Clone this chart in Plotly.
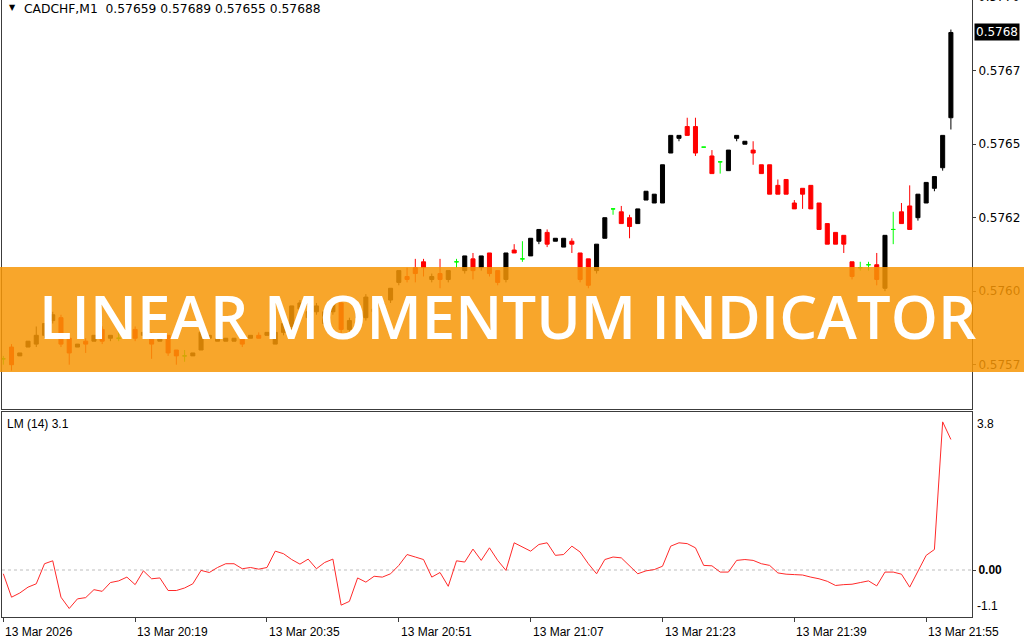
import plotly.graph_objects as go
import pandas as pd

# ---------------- data ----------------
HEADER_SYMBOL = "CADCHF,M1"
HEADER_OHLC = "0.57659 0.57689 0.57655 0.57688"
START = "2026-03-13 20:03"

OPEN = [0.57577, 0.57581, 0.57578, 0.57581, 0.57582, 0.57585, 0.57590, 0.57591, 0.57584, 0.57581,
        0.57583, 0.57583, 0.57587, 0.57584, 0.57584, 0.57584, 0.57587, 0.57585, 0.57585, 0.57583,
        0.57585, 0.57580, 0.57578, 0.57578, 0.57580, 0.57584, 0.57583, 0.57583, 0.57583, 0.57585,
        0.57584, 0.57585, 0.57585, 0.57582, 0.57586, 0.57588, 0.57594, 0.57591, 0.57593, 0.57589,
        0.57593, 0.57596, 0.57587, 0.57591, 0.57591, 0.57593, 0.57594, 0.57597, 0.57603, 0.57605,
        0.57608, 0.57610, 0.57604, 0.57606, 0.57604, 0.57610, 0.57607, 0.57611, 0.57608, 0.57613,
        0.57607, 0.57604, 0.57614, 0.57611, 0.57612, 0.57617, 0.57620, 0.57617, 0.57615, 0.57617,
        0.57613, 0.57611, 0.57607, 0.57618, 0.57628, 0.57627, 0.57625, 0.57623, 0.57631, 0.57630,
        0.57630, 0.57647, 0.57652, 0.57656, 0.57656, 0.57649, 0.57646, 0.57644, 0.57641, 0.57652,
        0.57650, 0.57648, 0.57643, 0.57643, 0.57636, 0.57638, 0.57630, 0.57635, 0.57636, 0.57630,
        0.57623, 0.57620, 0.57619, 0.57610, 0.57608, 0.57609, 0.57609, 0.57601, 0.57621, 0.57627,
        0.57629, 0.57625, 0.57630, 0.57635, 0.57642, 0.57659]
HIGH = [0.57578, 0.57582, 0.57579, 0.57583, 0.57588, 0.57589, 0.57593, 0.57592, 0.57585, 0.57582,
        0.57584, 0.57585, 0.57588, 0.57585, 0.57586, 0.57587, 0.57588, 0.57586, 0.57586, 0.57584,
        0.57585, 0.57580, 0.57580, 0.57579, 0.57587, 0.57585, 0.57584, 0.57584, 0.57584, 0.57586,
        0.57585, 0.57586, 0.57586, 0.57587, 0.57589, 0.57595, 0.57597, 0.57594, 0.57596, 0.57593,
        0.57597, 0.57597, 0.57591, 0.57594, 0.57599, 0.57595, 0.57597, 0.57601, 0.57607, 0.57608,
        0.57611, 0.57611, 0.57606, 0.57611, 0.57607, 0.57611, 0.57612, 0.57613, 0.57612, 0.57613,
        0.57607, 0.57613, 0.57616, 0.57617, 0.57618, 0.57621, 0.57621, 0.57618, 0.57618, 0.57618,
        0.57613, 0.57611, 0.57616, 0.57625, 0.57628, 0.57629, 0.57626, 0.57628, 0.57634, 0.57633,
        0.57643, 0.57653, 0.57653, 0.57659, 0.57659, 0.57649, 0.57648, 0.57644, 0.57648, 0.57653,
        0.57651, 0.57651, 0.57643, 0.57643, 0.57638, 0.57638, 0.57631, 0.57635, 0.57636, 0.57630,
        0.57623, 0.57620, 0.57619, 0.57610, 0.57610, 0.57610, 0.57613, 0.57619, 0.57627, 0.57630,
        0.57636, 0.57633, 0.57637, 0.57639, 0.57653, 0.57689]
LOW = [0.57575, 0.57573, 0.57578, 0.57581, 0.57581, 0.57584, 0.57589, 0.57581, 0.57575, 0.57581,
       0.57579, 0.57583, 0.57582, 0.57583, 0.57583, 0.57584, 0.57583, 0.57585, 0.57577, 0.57583,
       0.57578, 0.57575, 0.57576, 0.57578, 0.57580, 0.57584, 0.57583, 0.57583, 0.57583, 0.57581,
       0.57584, 0.57584, 0.57585, 0.57582, 0.57585, 0.57587, 0.57593, 0.57590, 0.57592, 0.57588,
       0.57592, 0.57585, 0.57586, 0.57590, 0.57590, 0.57592, 0.57594, 0.57596, 0.57602, 0.57603,
       0.57603, 0.57605, 0.57603, 0.57601, 0.57603, 0.57608, 0.57606, 0.57604, 0.57607, 0.57605,
       0.57602, 0.57603, 0.57613, 0.57610, 0.57612, 0.57616, 0.57615, 0.57617, 0.57615, 0.57613,
       0.57603, 0.57601, 0.57606, 0.57618, 0.57626, 0.57623, 0.57618, 0.57623, 0.57631, 0.57630,
       0.57630, 0.57647, 0.57651, 0.57653, 0.57646, 0.57649, 0.57640, 0.57640, 0.57641, 0.57651,
       0.57650, 0.57643, 0.57640, 0.57633, 0.57633, 0.57633, 0.57628, 0.57628, 0.57628, 0.57621,
       0.57616, 0.57616, 0.57613, 0.57604, 0.57607, 0.57607, 0.57602, 0.57600, 0.57616, 0.57623,
       0.57621, 0.57624, 0.57630, 0.57634, 0.57641, 0.57655]
CLOSE = [0.57577, 0.57575, 0.57579, 0.57583, 0.57585, 0.57589, 0.57592, 0.57582, 0.57579, 0.57582,
         0.57582, 0.57585, 0.57583, 0.57585, 0.57584, 0.57586, 0.57584, 0.57586, 0.57582, 0.57584,
         0.57579, 0.57578, 0.57578, 0.57579, 0.57586, 0.57585, 0.57584, 0.57584, 0.57584, 0.57582,
         0.57585, 0.57584, 0.57586, 0.57586, 0.57589, 0.57595, 0.57596, 0.57593, 0.57595, 0.57593,
         0.57596, 0.57587, 0.57590, 0.57593, 0.57598, 0.57594, 0.57596, 0.57601, 0.57607, 0.57604,
         0.57606, 0.57608, 0.57605, 0.57604, 0.57607, 0.57610, 0.57612, 0.57607, 0.57612, 0.57606,
         0.57603, 0.57613, 0.57613, 0.57611, 0.57618, 0.57621, 0.57616, 0.57618, 0.57618, 0.57616,
         0.57604, 0.57602, 0.57616, 0.57625, 0.57628, 0.57623, 0.57622, 0.57628, 0.57634, 0.57633,
         0.57643, 0.57653, 0.57653, 0.57653, 0.57647, 0.57649, 0.57640, 0.57644, 0.57648, 0.57653,
         0.57651, 0.57647, 0.57640, 0.57633, 0.57633, 0.57633, 0.57628, 0.57633, 0.57628, 0.57621,
         0.57616, 0.57616, 0.57616, 0.57605, 0.57608, 0.57609, 0.57604, 0.57619, 0.57621, 0.57623,
         0.57621, 0.57633, 0.57637, 0.57639, 0.57653, 0.57688]
LM = [-0.09, -0.65, -0.55, -0.41, -0.33, 0.15, 0.22, -0.65, -0.92, -0.69,
      -0.66, -0.47, -0.51, -0.30, -0.26, -0.17, -0.35, -0.02, -0.21, -0.19,
      -0.49, -0.49, -0.43, -0.33, -0.01, -0.06, 0.06, 0.15, 0.15, 0.03,
      0.06, 0.02, 0.06, 0.45, 0.39, 0.25, 0.14, 0.26, 0.03, 0.18,
      0.26, -0.84, -0.75, -0.19, -0.29, -0.15, -0.17, -0.09, 0.11, 0.37,
      0.31, 0.25, -0.17, -0.06, -0.39, 0.22, 0.19, 0.50, 0.23, 0.53,
      0.23, -0.01, 0.65, 0.55, 0.45, 0.61, 0.65, 0.35, 0.37, 0.57,
      0.43, 0.15, -0.09, 0.25, 0.31, 0.29, 0.11, -0.09, -0.02, 0.01,
      0.09, 0.57, 0.65, 0.63, 0.53, 0.11, 0.10, -0.05, -0.05, 0.23,
      0.25, 0.23, 0.15, 0.11, -0.07, -0.10, -0.11, -0.12, -0.17, -0.21,
      -0.27, -0.37, -0.35, -0.34, -0.30, -0.26, -0.38, -0.05, -0.05, -0.10,
      -0.41, -0.01, 0.35, 0.49, 3.54, 3.12]
LM_TITLE = "LM (14) 3.1"
LM_MAX_LABEL, LM_MIN_LABEL = "3.8", "-1.1"

PRICE_TICKS = [0.57675, 0.57650, 0.57625, 0.57600, 0.57575]
PRICE_TICK_TEXT = ["0.5767", "0.5765", "0.5762", "0.5760", "0.5757"]
PRICE_TOP_TICK, PRICE_TOP_TEXT = 0.57700, "0.5770"
CURRENT_PRICE, CURRENT_PRICE_TEXT = 0.57688, "0.5768"

TIME_TICKS = ["2026-03-13 20:03", "2026-03-13 20:19", "2026-03-13 20:35", "2026-03-13 20:51",
              "2026-03-13 21:07", "2026-03-13 21:23", "2026-03-13 21:39", "2026-03-13 21:55"]
TIME_TICK_TEXT = ["13 Mar 2026", "13 Mar 20:19", "13 Mar 20:35", "13 Mar 20:51",
                  "13 Mar 21:07", "13 Mar 21:23", "13 Mar 21:39", "13 Mar 21:55"]
BANNER_TEXT = "LINEAR MOMENTUM INDICATOR"

# ---------------- layout geometry (pixels) ----------------
W, H = 1024, 640
ML, MR, MT, MB = 2, 52, 0, 23
PW, PH = W - ML - MR, H - MT - MB
BAR_PX = 8.24
FIRST_BAR_PX = 3.3
TOP_BOTTOM_PX = 409.0
BOT_TOP_PX = 411.5

def py(px):
    return (PH - px) / PH

def pxx(px):
    return (px - ML) / PW

times = pd.date_range(START, periods=len(OPEN), freq="min")
sec_per_px = 60.0 / BAR_PX
x_start = times[0] - pd.Timedelta(seconds=(FIRST_BAR_PX - ML) * sec_per_px)
x_end = x_start + pd.Timedelta(seconds=PW * sec_per_px)

is_doji = [o == c for o, c in zip(OPEN, CLOSE)]
def pick(arr, doji):
    return [v if d == doji else None for v, d in zip(arr, is_doji)]

fig = go.Figure()
fig.add_trace(go.Candlestick(
    x=times, open=pick(OPEN, False), high=pick(HIGH, False), low=pick(LOW, False), close=pick(CLOSE, False),
    increasing=dict(line=dict(color="#000000", width=1), fillcolor="#000000"),
    decreasing=dict(line=dict(color="#FF0000", width=1), fillcolor="#FF0000"),
    xaxis="x", yaxis="y", showlegend=False, hoverinfo="skip"))
fig.add_trace(go.Candlestick(
    x=times, open=pick(OPEN, True), high=pick(HIGH, True), low=pick(LOW, True), close=pick(CLOSE, True),
    increasing=dict(line=dict(color="#00FF00", width=1), fillcolor="#00FF00"),
    decreasing=dict(line=dict(color="#00FF00", width=1), fillcolor="#00FF00"),
    xaxis="x", yaxis="y", showlegend=False, hoverinfo="skip"))
fig.add_trace(go.Scatter(x=times, y=LM, mode="lines", line=dict(color="#FF2A2A", width=1),
                         xaxis="x2", yaxis="y2", showlegend=False, hoverinfo="skip"))

# price range derived from pixel scale: 0.00025 per 73.5 px, 0.57675 at y=70.7
ppx = 0.00025 / 73.5
p_top = 0.57675 + 70.7 * ppx
p_bot = 0.57675 - (TOP_BOTTOM_PX - 70.7) * ppx
lm_pp = 41.84
lm_top = (570.0 - BOT_TOP_PX) / lm_pp
lm_bot = -(617.0 - 570.0) / lm_pp

FRAME = "#3c3c3c"
PRICE_FONT = dict(family="DejaVu Sans", size=12, color="#000000")
SMALL_FONT = dict(family="Liberation Sans", size=12, color="#000000")

fig.update_layout(
    width=W, height=H, margin=dict(l=ML, r=MR, t=MT, b=MB),
    paper_bgcolor="#FFFFFF", plot_bgcolor="#FFFFFF",
    boxgap=0.3, boxgroupgap=0.3,
    xaxis=dict(domain=[0, 1], anchor="y", range=[x_start, x_end], rangeslider=dict(visible=False),
               showticklabels=False, ticks="", showgrid=False, zeroline=False,
               showline=True, mirror=True, linecolor=FRAME, linewidth=1),
    yaxis=dict(domain=[py(TOP_BOTTOM_PX), 1], anchor="x", side="right", range=[p_bot, p_top],
               tickvals=PRICE_TICKS, ticktext=PRICE_TICK_TEXT, ticks="outside", ticklen=3,
               tickcolor=FRAME, tickfont=PRICE_FONT, showgrid=False, zeroline=False,
               showline=True, mirror=True, linecolor=FRAME, linewidth=1),
    xaxis2=dict(domain=[0, 1], anchor="y2", matches="x", range=[x_start, x_end],
                tickvals=list(pd.to_datetime(TIME_TICKS)), ticks="outside", ticklen=4, tickcolor=FRAME,
                showticklabels=False, showgrid=False, zeroline=False,
                showline=True, mirror=True, linecolor=FRAME, linewidth=1),
    yaxis2=dict(domain=[0, py(BOT_TOP_PX)], anchor="x2", side="right", range=[lm_bot, lm_top],
                tickvals=[0], ticktext=["<b>0.00</b>"], ticks="outside", ticklen=3, tickcolor=FRAME,
                tickfont=SMALL_FONT, showgrid=False, zeroline=False,
                showline=True, mirror=True, linecolor=FRAME, linewidth=1),
)

shapes = [
    dict(type="line", xref="x2 domain", yref="y2", x0=0, x1=1, y0=0, y1=0,
         line=dict(color="#BDBDBD", width=1, dash="dot"), layer="below"),
    dict(type="rect", xref="paper", yref="paper", x0=pxx(-2), x1=pxx(W + 2), y0=py(372), y1=py(267),
         fillcolor="rgba(247,151,6,0.85)", line=dict(width=0), layer="above"),
]
fig.update_layout(shapes=shapes)

ann = []
ann.append(dict(text="\u25BC", xref="paper", yref="paper", x=pxx(7), y=py(1), xanchor="left", yanchor="top",
                showarrow=False, font=dict(family="DejaVu Sans", size=8, color="#000000")))
ann.append(dict(text=HEADER_SYMBOL + "\u00a0\u00a0" + HEADER_OHLC, xref="paper", yref="paper", x=pxx(22), y=py(0),
                xanchor="left", yanchor="top", showarrow=False,
                font=dict(family="DejaVu Sans", size=12.3, color="#000000")))
ann.append(dict(text=PRICE_TOP_TEXT, xref="paper", yref="paper", x=1, xshift=4,
                y=py(70.7 - 0.00025 / ppx), xanchor="left", yanchor="middle", showarrow=False, font=PRICE_FONT))
ann.append(dict(text=CURRENT_PRICE_TEXT, xref="paper", yref="y", x=1, xshift=2, y=CURRENT_PRICE,
                xanchor="left", yanchor="middle", showarrow=False, bgcolor="#000000", borderpad=1,
                font=dict(family="DejaVu Sans", size=12, color="#FFFFFF")))
ann.append(dict(text=LM_TITLE, xref="paper", yref="paper", x=0, xshift=3, y=py(BOT_TOP_PX), yshift=-3,
                xanchor="left", yanchor="top", showarrow=False, font=SMALL_FONT))
ann.append(dict(text=LM_MAX_LABEL, xref="paper", yref="paper", x=1, xshift=3, y=py(BOT_TOP_PX), yshift=-3,
                xanchor="left", yanchor="top", showarrow=False, font=SMALL_FONT))
ann.append(dict(text=LM_MIN_LABEL, xref="paper", yref="paper", x=1, xshift=3, y=0, yshift=2,
                xanchor="left", yanchor="bottom", showarrow=False, font=SMALL_FONT))
for t, lab in zip(TIME_TICKS, TIME_TICK_TEXT):
    ann.append(dict(text=lab, xref="x2", yref="paper", x=pd.Timestamp(t), y=0, yshift=-6,
                    xanchor="left", yanchor="top", showarrow=False, font=SMALL_FONT))
ann.append(dict(text=BANNER_TEXT, xref="paper", yref="paper", x=pxx(507), y=py(316),
                xanchor="center", yanchor="middle", showarrow=False,
                font=dict(family="Open Sans", size=60, color="#FFFFFF", weight=600)))
fig.update_layout(annotations=ann)

fig.write_html("out.html", config={"displayModeBar": False},
               post_script="document.body.style.margin='0';document.body.style.overflow='hidden';")
